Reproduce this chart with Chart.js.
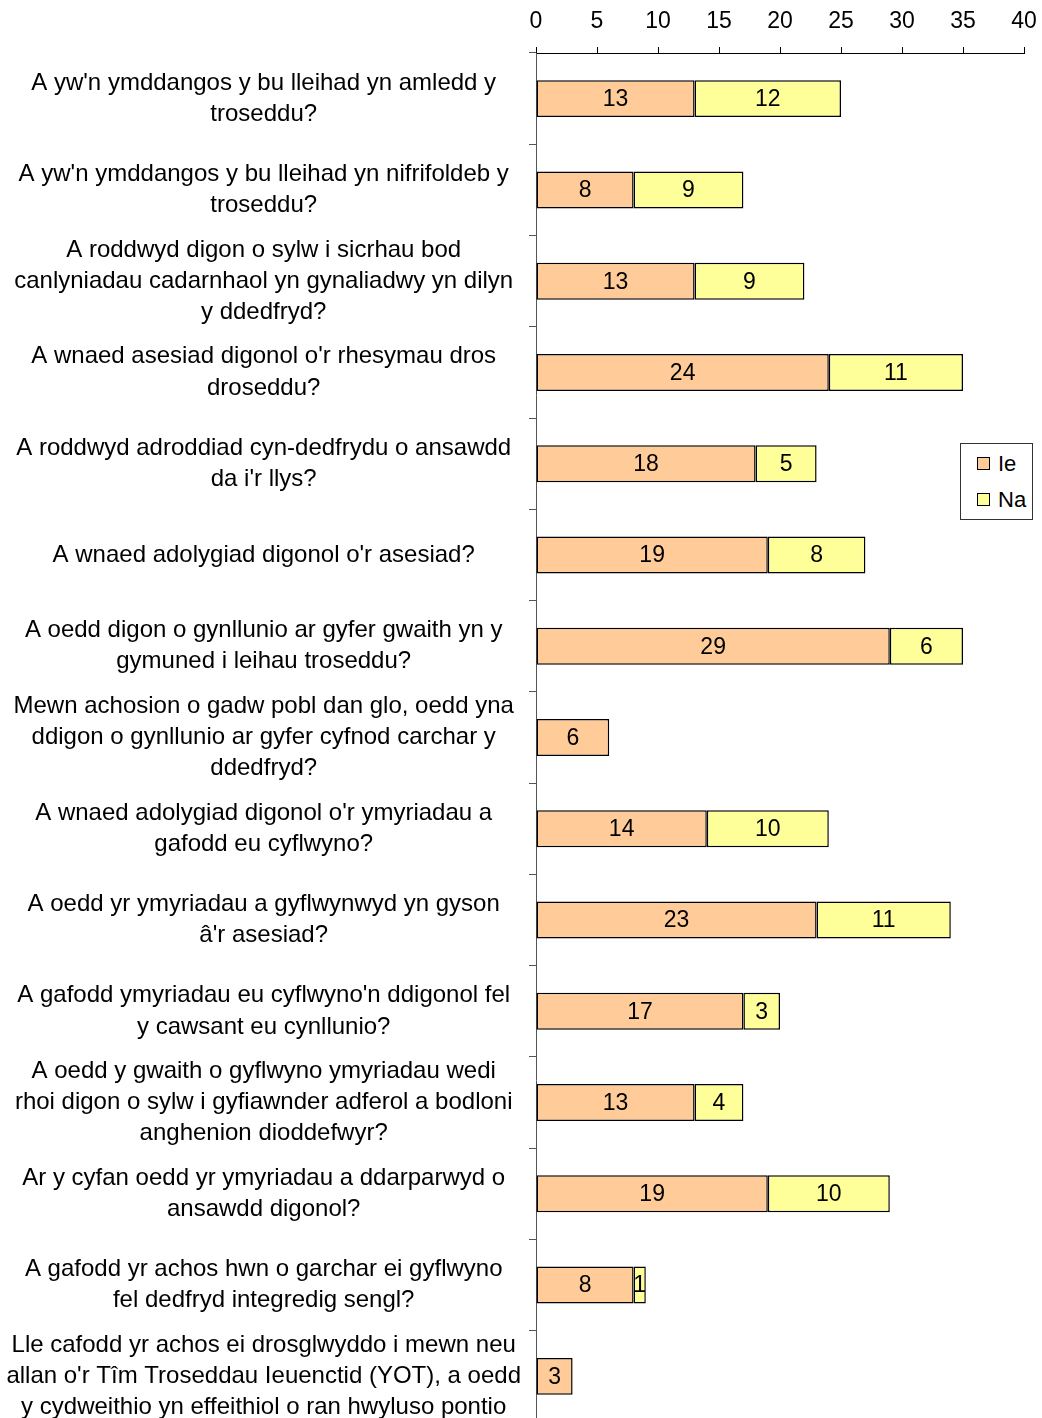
<!DOCTYPE html>
<html>
<head>
<meta charset="utf-8">
<script src="https://cdn.jsdelivr.net/npm/chart.js@4/dist/chart.umd.min.js"></script>
<style>
  html, body { margin: 0; padding: 0; background: #fff; overflow: hidden; }
  #wrap { position: relative; width: 1042px; height: 1422px; }
  #legend {
    position: absolute; left: 960px; top: 443px; width: 73px; height: 77px;
    border: 1px solid #333; box-sizing: border-box; background: #fff;
    font-family: "Liberation Sans", Arial, sans-serif; font-size: 22px; color: #000;
  }
  #legend .item { position: absolute; left: 16px; height: 24px; line-height: 24px; }
  #legend .sw { display: inline-block; width: 11px; height: 11px; border: 1px solid #000; margin-right: 8px; vertical-align: 1px; }
</style>
</head>
<body>
<div id="wrap">
  <canvas id="chart" width="1042" height="1422"></canvas>
  <div id="legend">
    <div class="item" style="top:8px"><span class="sw" style="background:#FFCC99"></span>Ie</div>
    <div class="item" style="top:44px"><span class="sw" style="background:#FFFF99"></span>Na</div>
  </div>
</div>
<script>
const questions = [
  ["A yw'n ymddangos y bu lleihad yn amledd y", "troseddu?"],
  ["A yw'n ymddangos y bu lleihad yn nifrifoldeb y", "troseddu?"],
  ["A roddwyd digon o sylw i sicrhau bod", "canlyniadau cadarnhaol yn gynaliadwy yn dilyn", "y ddedfryd?"],
  ["A wnaed asesiad digonol o'r rhesymau dros", "droseddu?"],
  ["A roddwyd adroddiad cyn-dedfrydu o ansawdd", "da i'r llys?"],
  ["A wnaed adolygiad digonol o'r asesiad?"],
  ["A oedd digon o gynllunio ar gyfer gwaith yn y", "gymuned i leihau troseddu?"],
  ["Mewn achosion o gadw pobl dan glo, oedd yna", "ddigon o gynllunio ar gyfer cyfnod carchar y", "ddedfryd?"],
  ["A wnaed adolygiad digonol o'r ymyriadau a", "gafodd eu cyflwyno?"],
  ["A oedd yr ymyriadau a gyflwynwyd yn gyson", "â'r asesiad?"],
  ["A gafodd ymyriadau eu cyflwyno'n ddigonol fel", "y cawsant eu cynllunio?"],
  ["A oedd y gwaith o gyflwyno ymyriadau wedi", "rhoi digon o sylw i gyfiawnder adferol a bodloni", "anghenion dioddefwyr?"],
  ["Ar y cyfan oedd yr ymyriadau a ddarparwyd o", "ansawdd digonol?"],
  ["A gafodd yr achos hwn o garchar ei gyflwyno", "fel dedfryd integredig sengl?"],
  ["Lle cafodd yr achos ei drosglwyddo i mewn neu", "allan o'r Tîm Troseddau Ieuenctid (YOT), a oedd", "y cydweithio yn effeithiol o ran hwyluso pontio"]
]
const ie = [13, 8, 13, 24, 18, 19, 29, 6, 14, 23, 17, 13, 19, 8, 3]
const na = [12, 9, 9, 11, 5, 8, 6, 0, 10, 11, 3, 4, 10, 1, 0]
const xTicks = [0, 5, 10, 15, 20, 25, 30, 35, 40]

const fontFamily = '"Liberation Sans", Arial, sans-serif'

// numbers written in the middle of each bar piece
const barLabels = {
  id: "barLabels",
  afterDatasetsDraw(chart) {
    const ctx = chart.ctx
    ctx.save()
    ctx.font = "23px " + fontFamily
    ctx.fillStyle = "#000"
    ctx.textAlign = "center"
    ctx.textBaseline = "middle"
    chart.data.datasets.forEach((ds, i) => {
      chart.getDatasetMeta(i).data.forEach((bar, j) => {
        if (!ds.data[j]) return
        ctx.fillText(ds.data[j], (bar.x + bar.base) / 2, bar.y + 1)
      })
    })
    ctx.restore()
  }
}

new Chart(document.getElementById("chart"), {
  type: "bar",
  data: {
    labels: questions,
    datasets: [
      { label: "Ie", data: ie, backgroundColor: "#FFCC99", borderColor: "#000", borderWidth: 1.5, borderSkipped: false },
      { label: "Na", data: na, backgroundColor: "#FFFF99", borderColor: "#000", borderWidth: 1.5, borderSkipped: false }
    ]
  },
  options: {
    indexAxis: "y",
    responsive: false,
    animation: false,
    barPercentage: 0.405,
    categoryPercentage: 1,
    layout: { padding: { left: 0, right: 18, top: 0, bottom: 0 } },
    plugins: { legend: { display: false }, tooltip: { enabled: false } },
    scales: {
      x: {
        position: "top",
        stacked: true,
        min: 0,
        max: 40,
        afterBuildTicks: (scale) => { scale.ticks = xTicks.map(v => ({ value: v })) },
        afterFit: (scale) => { scale.height = 53; scale.paddingLeft = 0; scale.paddingRight = 0 },
        grid: { drawOnChartArea: false, tickLength: 6, color: "#000", lineWidth: 1 },
        border: { display: true, color: "#000", width: 1 },
        ticks: { padding: 12, color: "#000", font: { family: fontFamily, size: 23 } }
      },
      y: {
        stacked: true,
        afterFit: (scale) => { scale.width = 536; scale.paddingTop = 0; scale.paddingBottom = 0 },
        grid: { drawOnChartArea: false, tickLength: 7, color: "#555", offset: true },
        border: { display: true, color: "#555", width: 1 },
        ticks: {
          autoSkip: false,
          crossAlign: "center",
          padding: 8,
          color: "#000",
          font: { family: fontFamily, size: 24, lineHeight: 1.3 }
        }
      }
    }
  },
  plugins: [barLabels]
})
</script>
</body>
</html>
